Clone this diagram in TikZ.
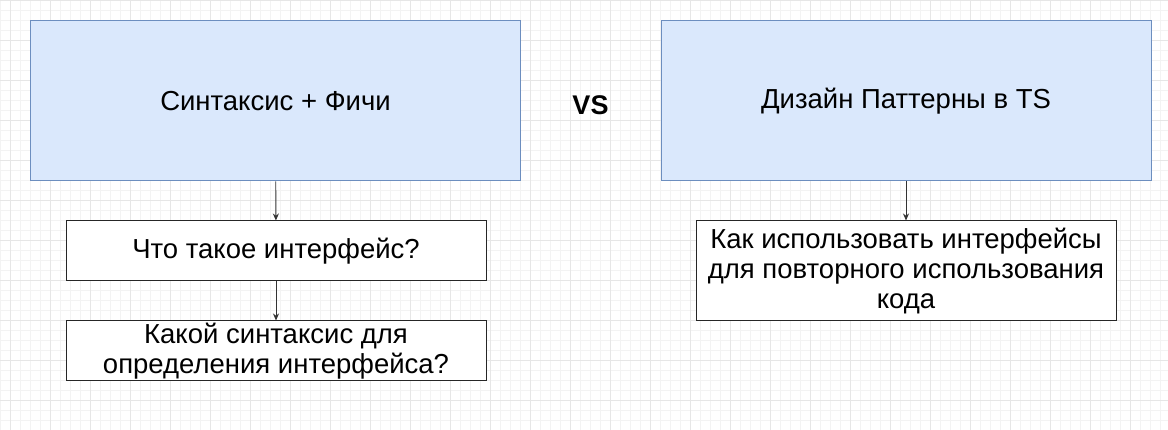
\documentclass[tikz,border=0pt]{standalone}
\usepackage{fontspec}
\setmainfont{Liberation Sans}
\usetikzlibrary{arrows.meta}
\definecolor{blueFill}{HTML}{DAE8FC}
\definecolor{blueLine}{HTML}{6C8EBF}
\definecolor{gridMinor}{HTML}{F3F3F3}
\definecolor{gridMajor}{HTML}{E6E6E6}
\tikzset{
  topic/.style={draw=blueLine,fill=blueFill,line width=1pt,minimum width=490pt,minimum height=160pt,inner sep=0pt,font=\fontsize{27.5}{30}\selectfont},
  question/.style={draw=black!85,fill=white,line width=1pt,minimum width=420pt,inner sep=0pt,align=center,font=\fontsize{27.5}{30}\selectfont},
  link/.style={draw=black!80,line width=0.9pt,-{Stealth[length=7pt,width=6pt]}}
}

\begin{document}
\begin{tikzpicture}[x=1pt,y=-1pt]
\useasboundingbox (0,0) rectangle (1168,430);
% grid background
\fill[white] (0,0) rectangle (1168,430);
\draw[gridMinor,line width=0.8pt] (0,0) grid[step=10pt] (1168,430);
\foreach \gx in {10,50,...,1170}
  \draw[gridMajor,line width=0.8pt] (\gx,0) -- (\gx,430);
\foreach \gy in {0,40,...,430}
  \draw[gridMajor,line width=0.8pt] (0,\gy) -- (1168,\gy);

% left column
\node[topic] (syntax) at (275.5,101) {Синтаксис + Фичи};
\node[question,minimum height=60pt] (whatIs) at (276,251) {Что такое интерфейс?};
\node[question,minimum height=60pt] (howDefine) at (276,351) {Какой синтаксис для\\определения интерфейса?};

% right column
\node[topic] (patterns) at (906,101) {Дизайн Паттерны в TS};
\node[question,minimum height=100pt] (reuse) at (906,271) {Как использовать интерфейсы\\для повторного использования\\кода};

% versus label
\node[font=\fontsize{27}{30}\selectfont\bfseries] (versus) at (590.5,105) {VS};

% arrows
\draw[link] (syntax) -- (whatIs);
\draw[link] (whatIs) -- (howDefine);
\draw[link] (patterns) -- (reuse);
\end{tikzpicture}
\end{document}
